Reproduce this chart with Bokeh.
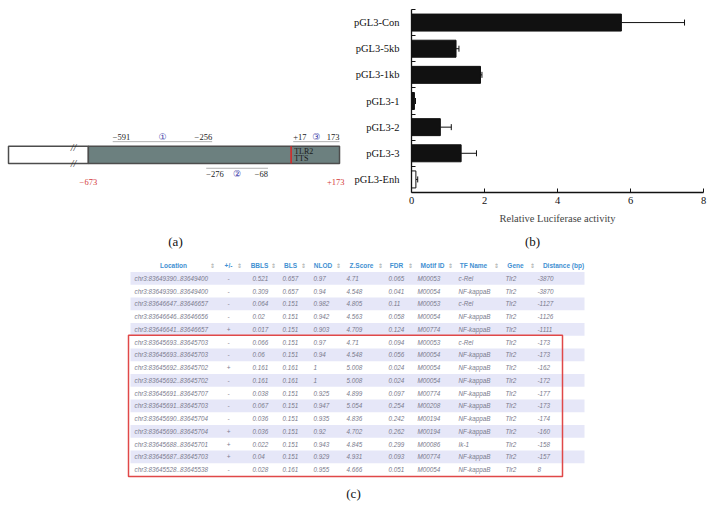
from bokeh.plotting import figure
from bokeh.layouts import column, row
from bokeh.models import Range1d, FixedTicker, Whisker, TeeHead, ColumnDataSource
from bokeh.core.properties import value
from bokeh.embed import file_html
from bokeh.resources import INLINE

SERIF = value("Liberation Serif")
SANS = value("Liberation Sans")

# ---------------- (b) luciferase data ----------------
constructs = ["pGL3-Con", "pGL3-5kb", "pGL3-1kb", "pGL3-1", "pGL3-2", "pGL3-3", "pGL3-Enh"]
activity = [5.75, 1.22, 1.89, 0.08, 0.79, 1.36, 0.12]
activity_err = [1.73, 0.08, 0.04, 0.03, 0.30, 0.42, 0.05]
bar_fill = ["#111111"] * 6 + ["white"]
x_ticks = [0, 2, 4, 6, 8]
x_label = "Relative Luciferase activity"

# ---------------- (a) promoter map data ----------------
map_start = -673
map_end = 173
upstream_start = -942
break_pos = -723
tts_pos = 10
region_marks = ["\u2460", "\u2461", "\u2462"]
region_start = [-591, -276, 17]
region_end = [-256, -68, 173]
region_start_labels = ["\u2212591", "\u2212276", "+17"]
region_end_labels = ["\u2212256", "\u221268", "173"]
region_above = [True, False, True]
map_end_labels = ["\u2212673", "+173"]

# ---------------- (c) table data ----------------
table_columns = ["Location", "+/-", "BBLS", "BLS", "NLOD", "Z.Score", "FDR",
                 "Motif ID", "TF Name", "Gene", "Distance (bp)"]
location = ["chr3:83649390..83649400", "chr3:83649390..83649400", "chr3:83646647..83646657",
            "chr3:83646646..83646656", "chr3:83646641..83646657", "chr3:83645693..83645703",
            "chr3:83645693..83645703", "chr3:83645692..83645702", "chr3:83645692..83645702",
            "chr3:83645691..83645707", "chr3:83645691..83645703", "chr3:83645690..83645704",
            "chr3:83645690..83645704", "chr3:83645688..83645701", "chr3:83645687..83645703",
            "chr3:83645528..83645538"]
strand = ["-", "-", "-", "-", "+", "-", "-", "+", "-", "-", "-", "-", "+", "+", "+", "-"]
bbls = [0.521, 0.309, 0.064, 0.02, 0.017, 0.066, 0.06, 0.161, 0.161, 0.038, 0.067, 0.036,
        0.036, 0.022, 0.04, 0.028]
bls = [0.657, 0.657, 0.151, 0.151, 0.151, 0.151, 0.151, 0.161, 0.161, 0.151, 0.151, 0.151,
       0.151, 0.151, 0.151, 0.161]
nlod = [0.97, 0.94, 0.982, 0.942, 0.903, 0.97, 0.94, 1, 1, 0.925, 0.947, 0.935, 0.92,
        0.943, 0.929, 0.955]
zscore = [4.71, 4.548, 4.805, 4.563, 4.709, 4.71, 4.548, 5.008, 5.008, 4.899, 5.054, 4.836,
          4.702, 4.845, 4.931, 4.666]
fdr = [0.065, 0.041, 0.11, 0.058, 0.124, 0.094, 0.056, 0.024, 0.024, 0.097, 0.254, 0.242,
       0.262, 0.299, 0.093, 0.051]
motif_id = ["M00053", "M00054", "M00053", "M00054", "M00774", "M00053", "M00054", "M00054",
            "M00054", "M00774", "M00208", "M00194", "M00194", "M00086", "M00774", "M00054"]
tf_name = ["c-Rel", "NF-kappaB", "c-Rel", "NF-kappaB", "NF-kappaB", "c-Rel", "NF-kappaB",
           "NF-kappaB", "NF-kappaB", "NF-kappaB", "NF-kappaB", "NF-kappaB", "NF-kappaB",
           "Ik-1", "NF-kappaB", "NF-kappaB"]
gene = ["Tlr2"] * 16
distance = [-3870, -3870, -1127, -1126, -1111, -173, -173, -162, -172, -177, -173, -174,
            -160, -158, -157, 8]
highlight_first, highlight_last = 5, 15
panel_labels = ["(a)", "(b)", "(c)"]


def clean(fig):
    fig.grid.visible = False
    fig.outline_line_color = None
    fig.background_fill_color = "white"
    fig.border_fill_color = "white"


TOP_H = 234

# ================= panel (a) =================
pa = figure(width=350, height=TOP_H, x_range=Range1d(-969, 210),
            y_range=Range1d(TOP_H, 0), output_backend="svg", toolbar_location=None,
            x_axis_type=None, y_axis_type=None, min_border=0)
clean(pa)
box_top, box_bot = 175, 197
pa.quad(left=[upstream_start], right=[map_start], top=[box_top], bottom=[box_bot],
        fill_color="white", line_color="#4d4d4d", line_width=1.5)
pa.quad(left=[map_start], right=[map_end], top=[box_top], bottom=[box_bot],
        fill_color="#6c807f", line_color="#4d4d4d", line_width=1.5)
pa.segment(x0=[tts_pos], x1=[tts_pos], y0=[box_top], y1=[box_bot], line_color="#d42a2a",
           line_width=1.6)
pa.text(x=[break_pos, break_pos], y=[box_top + 1, box_bot], text=["//", "//"],
        text_font=SERIF, text_font_style="italic", text_font_size="10px",
        text_align="center", text_baseline="middle", text_color="#222222")
pa.text(x=[tts_pos, tts_pos], y=[181, 190], text=["TLR2", "TTS"], x_offset=3,
        text_font=SERIF, text_font_size="8px", text_baseline="middle",
        text_color="#1a1a1a")
for s, e, sl, el, mk, above in zip(region_start, region_end, region_start_labels,
                                    region_end_labels, region_marks, region_above):
    ly = 169 if above else 203
    ty = 163 if above else 210
    pa.segment(x0=[s], x1=[e], y0=[ly], y1=[ly], line_color="#b0b0b0", line_width=1)
    pa.text(x=[s], y=[ty], text=[sl], text_font=SERIF, text_font_size="8.5px",
            text_align="left", text_baseline="middle", text_color="#222222")
    pa.text(x=[e], y=[ty], text=[el], text_font=SERIF, text_font_size="8.5px",
            text_align="right", text_baseline="middle", text_color="#222222")
    pa.text(x=[(s + e) / 2], y=[ty], text=[mk], text_font=value("DejaVu Sans"),
            text_font_size="9px", text_align="center", text_baseline="middle",
            text_color="#3a3aa8")
pa.text(x=[map_start], y=[220], text=[map_end_labels[0]], text_font=SERIF,
        text_font_size="8.5px", text_align="center", text_baseline="middle",
        text_color="#d43a3a")
pa.text(x=[map_end], y=[220], text=[map_end_labels[1]], x_offset=5, text_font=SERIF,
        text_font_size="8.5px", text_align="right", text_baseline="middle",
        text_color="#d43a3a")

# ================= panel (b) =================
n = len(constructs)
ypos = [n - 1 - i for i in range(n)]
pb = figure(width=362, height=TOP_H, x_range=Range1d(0, 8), y_range=Range1d(-0.5, n - 0.5),
            output_backend="svg", toolbar_location=None,
            min_border_left=61, min_border_right=9, min_border_top=9, min_border_bottom=42)
clean(pb)
pb.hbar(y=ypos, left=0, right=activity, height=0.65, fill_color=bar_fill,
        line_color="#111111", line_width=1)
err_src = ColumnDataSource(dict(y=ypos, lo=activity,
                                hi=[a + e for a, e in zip(activity, activity_err)]))
pb.add_layout(Whisker(source=err_src, base="y", lower="lo", upper="hi", dimension="width",
                      line_color="#111111", line_width=1, lower_head=None,
                      upper_head=TeeHead(size=6, line_color="#111111", line_width=1)))
pb.xaxis.ticker = FixedTicker(ticks=x_ticks)
pb.xaxis.axis_label = x_label
pb.yaxis.ticker = FixedTicker(ticks=ypos, minor_ticks=[y + 0.5 for y in ypos])
pb.yaxis.major_label_overrides = {y: c for y, c in zip(ypos, constructs)}
for ax in (pb.xaxis, pb.yaxis):
    ax.axis_line_color = "#111111"
    ax.axis_line_width = 1.3
    ax.major_label_text_font = "Liberation Serif"
    ax.major_label_text_font_size = "10.5px"
    ax.major_label_text_color = "#111111"
pb.xaxis.major_tick_in = 4
pb.xaxis.major_tick_out = 0
pb.xaxis.major_tick_line_color = "#111111"
pb.xaxis.minor_tick_line_color = None
pb.xaxis.major_label_standoff = 4
pb.xaxis.axis_label_text_font = "Liberation Serif"
pb.xaxis.axis_label_text_font_style = "normal"
pb.xaxis.axis_label_text_font_size = "10.5px"
pb.xaxis.axis_label_standoff = 6
pb.yaxis.major_tick_line_color = None
pb.yaxis.minor_tick_in = 4
pb.yaxis.minor_tick_out = 0
pb.yaxis.minor_tick_line_color = "#111111"
pb.yaxis.major_label_standoff = 6

# ================= panel (c) =================
C_BOTTOM = 518
pc = figure(width=712, height=C_BOTTOM - TOP_H, x_range=Range1d(0, 712),
            y_range=Range1d(C_BOTTOM, TOP_H), output_backend="svg", toolbar_location=None,
            x_axis_type=None, y_axis_type=None, min_border=0)
clean(pc)
pc.text(x=[175, 532, 353], y=[241, 241, 493], text=panel_labels, text_font=SERIF,
        text_font_size="13px", text_align="center", text_baseline="middle",
        text_color="#111111")

header_y = 265
row_h = 12.75
nrows = len(location)
row_y = [header_y + (i + 1) * row_h for i in range(nrows)]
tbl_left, tbl_right = 130, 584
stripe_y = [row_y[i] for i in range(nrows) if i % 2 == 0]
pc.quad(left=tbl_left, right=tbl_right, top=[y - row_h / 2 for y in stripe_y],
        bottom=[y + row_h / 2 for y in stripe_y], fill_color="#e6e7f8", line_color=None)

header_x = [173, 228, 259, 290, 322.5, 361, 396, 432, 473, 515, 563]
icon_x = [212, 239, 273, 303, 338, 380, 410, 450, 496, 532]
pc.text(x=header_x, y=[header_y] * len(header_x), text=table_columns, text_font=SANS,
        text_font_style="bold", text_font_size="6.5px", text_align="center",
        text_baseline="middle", text_color="#3f90d2")
pc.text(x=icon_x, y=[header_y] * len(icon_x), text=["\u21d5"] * len(icon_x),
        text_font=value("DejaVu Sans"), text_font_size="6px", text_align="center",
        text_baseline="middle", text_color="#a0a0a0")

fmt = lambda vals: [str(v) for v in vals]
data_cols = [(134, "left", location), (228, "center", strand), (252, "left", fmt(bbls)),
             (282, "left", fmt(bls)), (313, "left", fmt(nlod)), (346, "left", fmt(zscore)),
             (388, "left", fmt(fdr)), (417, "left", motif_id), (458, "left", tf_name),
             (505, "left", gene), (537, "left", fmt(distance))]
for cx, al, vals in data_cols:
    pc.text(x=[cx] * nrows, y=row_y, text=vals, text_font=SANS, text_font_style="italic",
            text_font_size="6.3px", text_align=al, text_baseline="middle",
            text_color="#7a7a8c")

pc.quad(left=[128], right=[562], top=[row_y[highlight_first] - row_h / 2 - 0.5],
        bottom=[row_y[highlight_last] + row_h / 2 + 0.5], fill_color=None,
        line_color="#e04848", line_width=1.5)

layout = column(row(pa, pb), pc)
open("out.html", "w").write(file_html(layout, INLINE))
